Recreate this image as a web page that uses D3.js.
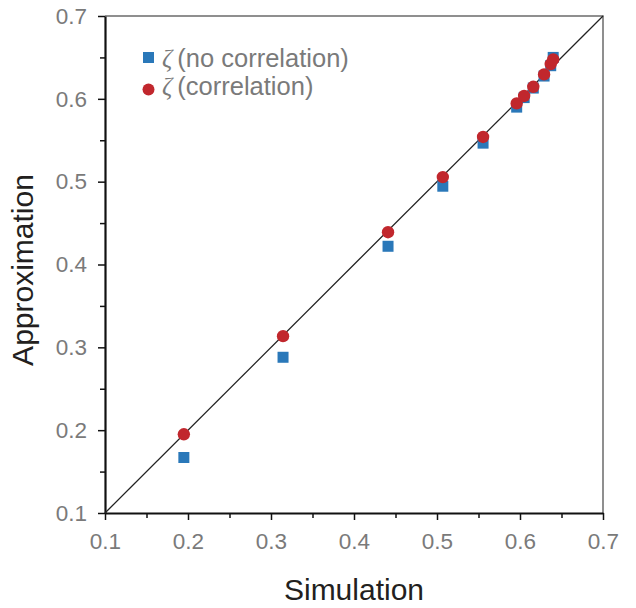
<!DOCTYPE html>
<html lang="en">
<head>
    <meta charset="UTF-8">
    <title>Simulation vs Approximation</title>
    <script src="https://d3js.org/d3.v7.min.js"></script>
    <style>
        body {margin: 0; background: white;}
        svg {display: block; font-family: "Liberation Sans", Arial, sans-serif;}
    </style>
</head>
<body>
<script>
    const width = 636;
    const height = 608;

    // simulation values (x) and the two approximations (y)
    const simulation    = [0.195, 0.3145, 0.441, 0.507, 0.5555, 0.596, 0.605, 0.616, 0.629, 0.637, 0.640];
    const noCorrelation = [0.167, 0.288, 0.422, 0.4945, 0.5465, 0.590, 0.6015, 0.613, 0.6275, 0.640, 0.650];
    const correlation   = [0.195, 0.3135, 0.439, 0.5055, 0.554, 0.5945, 0.6035, 0.6145, 0.6295, 0.642, 0.6475];

    const majorTicks = [0.1, 0.2, 0.3, 0.4, 0.5, 0.6, 0.7];
    const minorTicks = [0.15, 0.25, 0.35, 0.45, 0.55, 0.65];
    const legendLabels = ["(no correlation)", "(correlation)"];

    const blue = "#2a78b9";
    const red = "#c1272d";

    const svg = d3.select("body").append("svg")
            .attr("width", width).attr("height", height);

    const x = d3.scaleLinear().domain([0.1, 0.7]).range([105, 603]);
    const y = d3.scaleLinear().domain([0.1, 0.7]).range([513, 16]);

    // top and right frame
    svg.append("path")
            .attr("d", `M${x(0.1)},${y(0.7)}H${x(0.7)}V${y(0.1)}`)
            .attr("fill", "none").attr("stroke", "#6b6b6b").attr("stroke-width", 1.5);

    // minor ticks
    svg.append("g").attr("transform", `translate(0,${y(0.1)})`)
            .call(d3.axisBottom(x).tickValues(minorTicks).tickSize(5).tickFormat(""))
            .call(g => g.select(".domain").remove())
            .call(g => g.selectAll("line").attr("stroke", "#111").attr("stroke-width", 1.5));
    svg.append("g").attr("transform", `translate(${x(0.1)},0)`)
            .call(d3.axisLeft(y).tickValues(minorTicks).tickSize(5).tickFormat(""))
            .call(g => g.select(".domain").remove())
            .call(g => g.selectAll("line").attr("stroke", "#111").attr("stroke-width", 1.5));

    // major axes
    const xAxis = svg.append("g").attr("transform", `translate(0,${y(0.1)})`)
            .call(d3.axisBottom(x).tickValues(majorTicks).tickSize(7).tickSizeOuter(0)
                    .tickPadding(13).tickFormat(d3.format(".1f")));
    const yAxis = svg.append("g").attr("transform", `translate(${x(0.1)},0)`)
            .call(d3.axisLeft(y).tickValues(majorTicks).tickSize(7).tickSizeOuter(0)
                    .tickPadding(11).tickFormat(d3.format(".1f")));

    [xAxis, yAxis].forEach(g => {
        g.select(".domain").attr("stroke", "#111").attr("stroke-width", 2.2);
        g.selectAll(".tick line").attr("stroke", "#111").attr("stroke-width", 1.5);
        g.selectAll(".tick text").attr("fill", "#7a7a7a")
                .style("font-size", "22.5px").style("font-family", "Liberation Sans, Arial, sans-serif");
    });

    // identity line
    svg.append("line")
            .attr("x1", x(0.1)).attr("y1", y(0.1))
            .attr("x2", x(0.7)).attr("y2", y(0.7))
            .attr("stroke", "#222").attr("stroke-width", 1.3);

    // no correlation (squares)
    svg.selectAll("rect.nocorr")
            .data(simulation).enter()
            .append("rect").attr("class", "nocorr")
            .attr("x", d => x(d) - 5.5)
            .attr("y", (d, i) => y(noCorrelation[i]) - 5.5)
            .attr("width", 11).attr("height", 11)
            .attr("fill", blue);

    // correlation (circles)
    svg.selectAll("circle.corr")
            .data(simulation).enter()
            .append("circle").attr("class", "corr")
            .attr("cx", d => x(d))
            .attr("cy", (d, i) => y(correlation[i]))
            .attr("r", 6.2)
            .attr("fill", red);

    // legend
    const legend = svg.append("g");
    legend.append("rect")
            .attr("x", 143).attr("y", 52).attr("width", 11).attr("height", 11)
            .attr("fill", blue);
    legend.append("circle")
            .attr("cx", 148.5).attr("cy", 89.5).attr("r", 6)
            .attr("fill", red);
    legendLabels.forEach((label, i) => {
        const t = legend.append("text")
                .attr("x", 162).attr("y", 67 + i * 28)
                .attr("fill", "#7a7a7a").style("font-size", "25.5px");
        t.append("tspan")
                .style("font-family", "Liberation Serif, Times New Roman, serif")
                .style("font-style", "italic")
                .text("\u03B6");
        t.append("tspan").attr("dx", 5).text(label);
    });

    // axis titles
    svg.append("text")
            .attr("x", 354).attr("y", 600)
            .attr("text-anchor", "middle")
            .attr("fill", "#231f20").style("font-size", "30px")
            .text("Simulation");
    svg.append("text")
            .attr("transform", "translate(33,270) rotate(-90)")
            .attr("text-anchor", "middle")
            .attr("fill", "#231f20").style("font-size", "30px")
            .text("Approximation");
</script>
</body>
</html>
